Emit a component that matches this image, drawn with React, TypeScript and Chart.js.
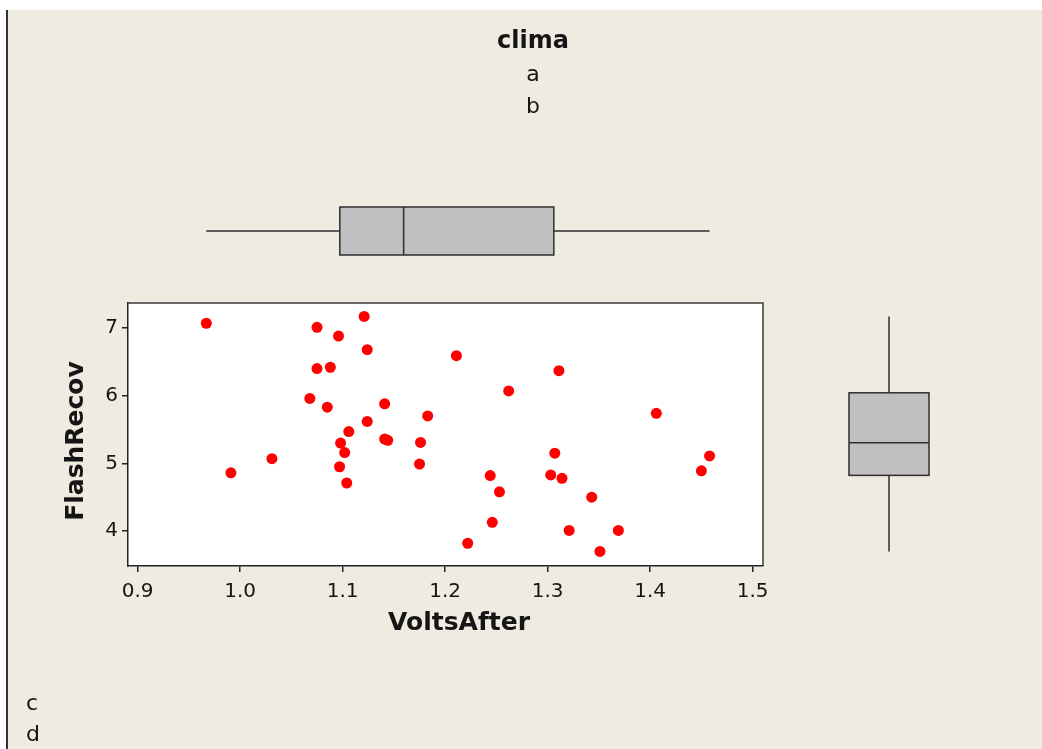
import { useEffect, useRef } from "react";
import { Chart, registerables } from "chart.js";

Chart.register(...registerables);

// Scatter data: VoltsAfter vs FlashRecov
const VOLTS_AFTER = [
  0.967, 0.991, 1.031, 1.068, 1.075, 1.075, 1.088, 1.085, 1.096, 1.121,
  1.124, 1.124, 1.106, 1.098, 1.102, 1.097, 1.104, 1.141, 1.141, 1.144,
  1.176, 1.175, 1.211, 1.183, 1.262, 1.311, 1.406, 1.307, 1.303, 1.314,
  1.244, 1.253, 1.246, 1.222, 1.343, 1.321, 1.369, 1.351, 1.45, 1.458,
];
const FLASH_RECOV = [
  7.07, 4.86, 5.07, 5.96, 7.01, 6.4, 6.42, 5.83, 6.88, 7.17,
  6.68, 5.62, 5.47, 5.3, 5.16, 4.95, 4.71, 5.88, 5.36, 5.34,
  5.31, 4.99, 6.59, 5.7, 6.07, 6.37, 5.74, 5.15, 4.83, 4.78,
  4.82, 4.58, 4.13, 3.82, 4.5, 4.01, 4.01, 3.7, 4.89, 5.11,
];

const X_TICKS = [0.9, 1.0, 1.1, 1.2, 1.3, 1.4, 1.5];
const Y_TICKS = [4, 5, 6, 7];
const X_RANGE = [0.8906, 1.5101];
const Y_RANGE = [3.484, 7.369];

const TITLE = "clima";
const SUBTITLE = ["a", "b"];
const FOOTNOTE = ["c", "d"];
const X_LABEL = "VoltsAfter";
const Y_LABEL = "FlashRecov";

const FONT = "'DejaVu Sans', Verdana, sans-serif";
const BG = "#EFEBE1";
const INK = "#151515";
const BOX_FILL = "#C0C0C0";
const BOX_LINE = "#2e2e2e";

// Quartiles by the (n+1)p interpolation rule, whiskers to the furthest points inside 1.5 IQR
function boxStats(values: number[]) {
  const s = [...values].sort((a, b) => a - b);
  const n = s.length;
  const at = (p: number) => {
    const pos = (n + 1) * p;
    const i = Math.floor(pos);
    const f = pos - i;
    if (i < 1) return s[0];
    if (i >= n) return s[n - 1];
    return s[i - 1] + f * (s[i] - s[i - 1]);
  };
  const q1 = at(0.25);
  const med = at(0.5);
  const q3 = at(0.75);
  const iqr = q3 - q1;
  const lo = s.find((v) => v >= q1 - 1.5 * iqr) as number;
  const hi = [...s].reverse().find((v) => v <= q3 + 1.5 * iqr) as number;
  return { q1, med, q3, lo, hi };
}

const marginalPlugin = {
  id: "marginal",
  beforeDraw(chart: any) {
    const { ctx, chartArea: a, width, height } = chart;
    ctx.save();
    ctx.fillStyle = "#ffffff";
    ctx.fillRect(0, 0, width, height);
    ctx.fillStyle = BG;
    ctx.fillRect(8, 10, width - 8, height - 10);
    ctx.fillStyle = "#333333";
    ctx.fillRect(6, 10, 2, height - 10);
    ctx.fillStyle = "#ffffff";
    ctx.fillRect(a.left, a.top, a.right - a.left, a.bottom - a.top);
    ctx.restore();
  },
  afterDraw(chart: any) {
    const { ctx, chartArea: a } = chart;
    const xs = chart.scales.x;
    const ys = chart.scales.y;
    ctx.save();

    // top and right edges of the data frame
    ctx.strokeStyle = "#3a3a3a";
    ctx.lineWidth = 1.5;
    ctx.beginPath();
    ctx.moveTo(a.left, a.top);
    ctx.lineTo(a.right, a.top);
    ctx.lineTo(a.right, a.bottom);
    ctx.stroke();

    // horizontal box plot of VoltsAfter above the scatter
    const bx = boxStats(VOLTS_AFTER);
    const cy = a.top - 72;
    const hh = 24;
    ctx.strokeStyle = BOX_LINE;
    ctx.lineWidth = 1.5;
    ctx.beginPath();
    ctx.moveTo(xs.getPixelForValue(bx.lo), cy);
    ctx.lineTo(xs.getPixelForValue(bx.q1), cy);
    ctx.moveTo(xs.getPixelForValue(bx.q3), cy);
    ctx.lineTo(xs.getPixelForValue(bx.hi), cy);
    ctx.stroke();
    const x1 = xs.getPixelForValue(bx.q1);
    const x3 = xs.getPixelForValue(bx.q3);
    ctx.fillStyle = BOX_FILL;
    ctx.fillRect(x1, cy - hh, x3 - x1, hh * 2);
    ctx.strokeRect(x1, cy - hh, x3 - x1, hh * 2);
    const xm = xs.getPixelForValue(bx.med);
    ctx.beginPath();
    ctx.moveTo(xm, cy - hh);
    ctx.lineTo(xm, cy + hh);
    ctx.stroke();

    // vertical box plot of FlashRecov right of the scatter
    const by = boxStats(FLASH_RECOV);
    const cx = a.right + 126;
    const hw = 40;
    ctx.beginPath();
    ctx.moveTo(cx, ys.getPixelForValue(by.hi));
    ctx.lineTo(cx, ys.getPixelForValue(by.q3));
    ctx.moveTo(cx, ys.getPixelForValue(by.q1));
    ctx.lineTo(cx, ys.getPixelForValue(by.lo));
    ctx.stroke();
    const y3 = ys.getPixelForValue(by.q3);
    const y1 = ys.getPixelForValue(by.q1);
    ctx.fillRect(cx - hw, y3, hw * 2, y1 - y3);
    ctx.strokeRect(cx - hw, y3, hw * 2, y1 - y3);
    const ym = ys.getPixelForValue(by.med);
    ctx.beginPath();
    ctx.moveTo(cx - hw, ym);
    ctx.lineTo(cx + hw, ym);
    ctx.stroke();

    // titles and labels
    ctx.fillStyle = INK;
    ctx.textBaseline = "alphabetic";
    ctx.textAlign = "center";
    ctx.font = `bold 24px ${FONT}`;
    ctx.fillText(TITLE, 533, 48);
    ctx.font = `22px ${FONT}`;
    SUBTITLE.forEach((t, i) => ctx.fillText(t, 533, 81 + i * 32));

    ctx.font = `bold 25px ${FONT}`;
    ctx.fillText(X_LABEL, 459, 630);
    ctx.save();
    ctx.translate(83, 441);
    ctx.rotate(-Math.PI / 2);
    ctx.fillText(Y_LABEL, 0, 0);
    ctx.restore();

    ctx.textAlign = "left";
    ctx.font = `22px ${FONT}`;
    FOOTNOTE.forEach((t, i) => ctx.fillText(t, 26, 710 + i * 31));
    ctx.restore();
  },
};

export default function App() {
  const ref = useRef<HTMLCanvasElement | null>(null);

  useEffect(() => {
    if (!ref.current) return;
    const tickFont = { family: FONT, size: 20 };
    const chart = new Chart(ref.current, {
      type: "scatter",
      data: {
        datasets: [
          {
            data: VOLTS_AFTER.map((x, i) => ({ x, y: FLASH_RECOV[i] })),
            backgroundColor: "#FF0000",
            borderWidth: 0,
            pointRadius: 5.5,
          },
        ],
      },
      options: {
        animation: false,
        responsive: false,
        devicePixelRatio: 1,
        layout: { padding: { left: 48, top: 303, right: 279, bottom: 103 } },
        plugins: { legend: { display: false }, tooltip: { enabled: false } },
        scales: {
          x: {
            type: "linear",
            min: X_RANGE[0],
            max: X_RANGE[1],
            afterBuildTicks: (s: any) => {
              s.ticks = X_TICKS.map((value) => ({ value }));
            },
            afterFit: (s: any) => {
              s.height = 80;
            },
            ticks: {
              font: tickFont,
              color: INK,
              padding: 8,
              maxRotation: 0,
              autoSkip: false,
              callback: (v: any) => Number(v).toFixed(1),
            },
            grid: { drawOnChartArea: false, drawTicks: true, tickLength: 6, color: "#222", lineWidth: 1.5 },
            border: { display: true, color: "#222", width: 1.5 },
          },
          y: {
            type: "linear",
            min: Y_RANGE[0],
            max: Y_RANGE[1],
            afterBuildTicks: (s: any) => {
              s.ticks = Y_TICKS.map((value) => ({ value }));
            },
            afterFit: (s: any) => {
              s.width = 80;
            },
            ticks: {
              font: tickFont,
              color: INK,
              padding: 4,
              autoSkip: false,
              callback: (v: any) => String(v),
            },
            grid: { drawOnChartArea: false, drawTicks: true, tickLength: 6, color: "#222", lineWidth: 1.5 },
            border: { display: true, color: "#222", width: 1.5 },
          },
        },
      },
      plugins: [marginalPlugin],
    });
    return () => chart.destroy();
  }, []);

  return (
    <div style={{ position: "fixed", left: 0, top: 0, width: 1042, height: 749, background: "#fff" }}>
      <canvas ref={ref} width={1042} height={749} style={{ display: "block", width: 1042, height: 749 }} />
    </div>
  );
}
